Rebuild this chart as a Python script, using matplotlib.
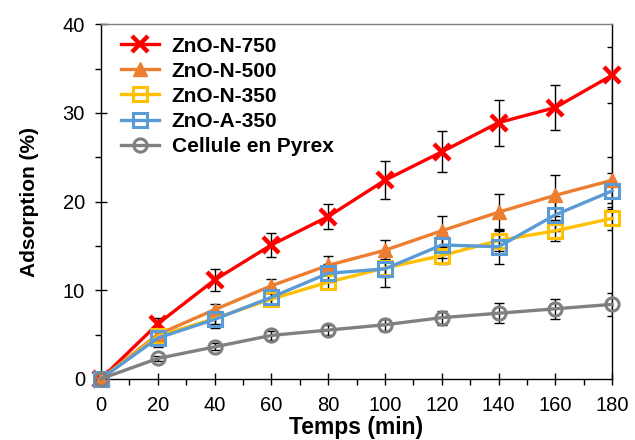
import matplotlib
matplotlib.use("Agg")
import matplotlib.pyplot as plt
from matplotlib.ticker import MultipleLocator

plt.rcParams['font.family'] = ['Liberation Sans', 'DejaVu Sans']

temps = [0, 20, 40, 60, 80, 100, 120, 140, 160, 180]

series_names = ["ZnO-N-750", "ZnO-N-500", "ZnO-N-350", "ZnO-A-350", "Cellule en Pyrex"]

zno_n_750 = [0, 6.2, 11.15, 15.1, 18.3, 22.4, 25.6, 28.9, 30.6, 34.25]
zno_n_750_err = [0, 0.7, 1.2, 1.4, 1.4, 2.15, 2.3, 2.6, 2.5, 3.15]

zno_n_500 = [0, 5.0, 7.8, 10.5, 12.8, 14.5, 16.7, 18.8, 20.7, 22.4]
zno_n_500_err = [0, 0.5, 0.6, 0.8, 1.0, 1.15, 1.7, 2.1, 2.3, 2.6]

zno_n_350 = [0, 4.8, 6.8, 9.0, 10.9, 12.5, 13.9, 15.6, 16.7, 18.1]
zno_n_350_err = [0, 0.5, 0.6, 0.7, 0.8, 1.0, 1.0, 1.2, 1.2, 1.3]

zno_a_350 = [0, 4.6, 6.7, 9.2, 11.9, 12.4, 15.1, 14.9, 18.5, 21.2]
zno_a_350_err = [0, 1.0, 1.0, 1.0, 1.0, 2.0, 1.5, 2.0, 1.8, 2.0]

pyrex = [0, 2.3, 3.6, 4.9, 5.5, 6.1, 6.9, 7.4, 7.9, 8.4]
pyrex_err = [0, 0.3, 0.4, 0.5, 0.6, 0.7, 0.8, 1.1, 1.15, 1.3]

values = [zno_n_750, zno_n_500, zno_n_350, zno_a_350, pyrex]
errors = [zno_n_750_err, zno_n_500_err, zno_n_350_err, zno_a_350_err, pyrex_err]
colors = ["#FF0000", "#ED7D31", "#FFC000", "#5B9BD5", "#808080"]
markers = ["x", "^", "s", "s", "o"]

fig = plt.figure(figsize=(6.35, 4.4), dpi=100)
ax = fig.add_axes([0.159, 0.139, 0.805, 0.806])

for name, y, e, c, m in zip(series_names, values, errors, colors, markers):
    ax.errorbar(temps, y, yerr=e, fmt='none', ecolor='black', elinewidth=1.0,
                capsize=3.3, capthick=1.0, zorder=2)
for i, (name, y, c, m) in enumerate(zip(series_names, values, colors, markers)):
    if m == "x":
        ax.plot(temps, y, color=c, lw=2.4, marker=m, ms=11, mew=3.2,
                label=name, clip_on=False, zorder=3 + i * 0.1)
    elif m == "^":
        ax.plot(temps, y, color=c, lw=2.4, marker=m, ms=9.5, mfc=c, mec=c,
                label=name, clip_on=False, zorder=3 + i * 0.1)
    else:
        ax.plot(temps, y, color=c, lw=2.4, marker=m, ms=9.5, mfc='none', mec=c,
                mew=2.2, label=name, clip_on=False, zorder=3 + i * 0.1)

ax.set_xlim(0, 180)
ax.set_ylim(0, 40)
ax.xaxis.set_major_locator(MultipleLocator(20))
ax.xaxis.set_minor_locator(MultipleLocator(10))
ax.yaxis.set_major_locator(MultipleLocator(10))
ax.yaxis.set_minor_locator(MultipleLocator(5))

ax.tick_params(axis='both', which='major', direction='inout', length=9,
               width=1.0, labelsize=14.5, colors='black')
ax.tick_params(axis='both', which='minor', direction='out', length=4, width=1.0)
ax.tick_params(axis='x', which='major', pad=8)
ax.tick_params(axis='y', which='major', pad=7)

for s in ['left', 'bottom']:
    ax.spines[s].set_color('black')
    ax.spines[s].set_linewidth(1.0)
ax.spines['top'].set_color('#7f7f7f')
ax.spines['right'].set_color('black')
ax.spines['top'].set_linewidth(1.0)
ax.spines['right'].set_linewidth(1.0)

ax.set_xlabel("Temps (min)", fontsize=16.5, fontweight='bold', labelpad=0.5)
ax.set_ylabel("Adsorption (%)", fontsize=15, fontweight='bold', labelpad=17)

leg = ax.legend(loc='upper left', bbox_to_anchor=(0.014, 1.0), frameon=False,
                prop={'weight': 'bold', 'size': 15}, handlelength=1.85,
                handletextpad=0.6, labelspacing=0.29, borderaxespad=0.3,
                borderpad=0.3)

fig.savefig("out.png", dpi=100)
